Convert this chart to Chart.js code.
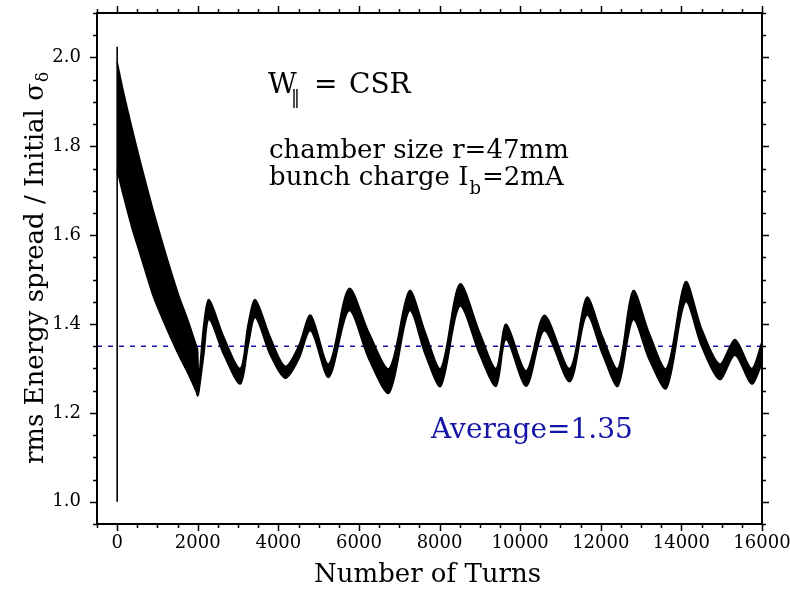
<!DOCTYPE html>
<html><head><meta charset="utf-8">
<script src="https://cdn.jsdelivr.net/npm/chart.js@4.4.0/dist/chart.umd.min.js"></script>
<style>html,body{margin:0;padding:0;background:#fff;}canvas{display:block;}</style>
</head><body>
<canvas id="c" width="790" height="592"></canvas>
<script>
// ---- data ----
const turns    = [0, 150, 371, 577, 867, 991, 1250, 1527, 1750, 1965, 1995, 2025, 2150, 2280, 2650, 3055, 3250, 3427, 3800, 4170, 4500, 4800, 5250, 5750, 6250, 6750, 7250, 7650, 8030, 8500, 9000, 9400, 9650, 10150, 10600, 11230, 11650, 12050, 12425, 12800, 13200, 13630, 14100, 14500, 14950, 15330, 15740, 16000];
const upperEnv = [1.99, 1.925, 1.84, 1.765, 1.665, 1.625, 1.545, 1.465, 1.41, 1.352, 1.345, 1.28, 1.40, 1.455, 1.37, 1.30, 1.40, 1.455, 1.37, 1.305, 1.35, 1.42, 1.31, 1.48, 1.38, 1.30, 1.475, 1.38, 1.30, 1.49, 1.38, 1.30, 1.40, 1.295, 1.42, 1.30, 1.46, 1.37, 1.30, 1.475, 1.38, 1.30, 1.495, 1.39, 1.31, 1.365, 1.30, 1.36];
const lowerEnv = [1.746, 1.69, 1.615, 1.555, 1.47, 1.44, 1.385, 1.33, 1.29, 1.247, 1.238, 1.245, 1.33, 1.41, 1.33, 1.265, 1.35, 1.415, 1.33, 1.278, 1.32, 1.385, 1.28, 1.43, 1.32, 1.245, 1.43, 1.33, 1.26, 1.44, 1.33, 1.26, 1.365, 1.26, 1.385, 1.27, 1.42, 1.33, 1.26, 1.41, 1.32, 1.255, 1.45, 1.35, 1.275, 1.33, 1.265, 1.31];
const spikeTurns  = [0, 0];
const spikeValues = [1.0, 2.024];
const averageValue = 1.35;
const xTicks = [0, 2000, 4000, 6000, 8000, 10000, 12000, 14000, 16000];
const yTicks = [1.0, 1.2, 1.4, 1.6, 1.8, 2.0];
const xRange = [-500, 16000];
const yRange = [0.95, 2.1];

const FONT = "'DejaVu Serif', serif";
const BLUE = '#1414a8';

const decor = {
  id: 'decor',
  afterDraw(chart) {
    const {ctx, chartArea: a, scales: {x, y}} = chart;
    ctx.save();
    ctx.strokeStyle = '#000';
    ctx.lineWidth = 1.5;
    ctx.beginPath();
    for (let v = xRange[0]; v <= xRange[1] + 1; v += 500) {
      const px = Math.round(x.getPixelForValue(v)) + 0.5;
      const L = (v % 2000 === 0) ? 7 : 4;
      ctx.moveTo(px, a.bottom); ctx.lineTo(px, a.bottom + L);
      ctx.moveTo(px, a.top); ctx.lineTo(px, a.top - L);
    }
    for (let i = 0; i <= 23; i++) {
      const v = yRange[0] + i * 0.05;
      const py = Math.round(y.getPixelForValue(v)) + 0.5;
      const major = Math.abs(v * 5 - Math.round(v * 5)) < 1e-6;
      const L = major ? 7 : 4;
      ctx.moveTo(a.left, py); ctx.lineTo(a.left - L, py);
      ctx.moveTo(a.right, py); ctx.lineTo(a.right + L, py);
    }
    ctx.stroke();
    ctx.lineWidth = 2;
    ctx.strokeRect(a.left, a.top, a.right - a.left, a.bottom - a.top);

    // texts
    ctx.fillStyle = '#000';
    ctx.textBaseline = 'alphabetic';
    ctx.textAlign = 'left';
    ctx.font = '28px ' + FONT;
    ctx.fillText('W', 268, 93);
    ctx.font = '18px ' + FONT;
    ctx.fillText('\u2016', 291, 103);
    ctx.font = '28px ' + FONT;
    ctx.fillText('=', 314, 93);
    ctx.fillText('CSR', 349, 93);
    ctx.font = '26px ' + FONT;
    ctx.fillText('chamber size r=47mm', 269, 158);
    const t1 = 'bunch charge I';
    ctx.fillText(t1, 269, 185);
    let xx = 269 + ctx.measureText(t1).width;
    ctx.font = '18px ' + FONT;
    ctx.fillText('b', xx + 1, 194);
    xx += ctx.measureText('b').width + 2;
    ctx.font = '26px ' + FONT;
    ctx.fillText('=2mA', xx, 185);
    ctx.fillStyle = BLUE;
    ctx.font = '28px ' + FONT;
    ctx.fillText('Average=' + averageValue.toFixed(2), 431, 438);
    ctx.fillStyle = '#000';
    ctx.font = '26px ' + FONT;
    ctx.textAlign = 'center';
    ctx.fillText('Number of Turns', (a.left + a.right) / 2 - 2, 582);
    ctx.save();
    ctx.translate(43, (a.top + a.bottom) / 2);
    ctx.rotate(-Math.PI / 2);
    ctx.textAlign = 'left';
    const main = 'rms Energy spread / Initial \u03C3';
    ctx.font = '26px ' + FONT;
    const w1 = ctx.measureText(main).width;
    ctx.font = '17px ' + FONT;
    const w2 = ctx.measureText('\u03B4').width;
    const start = -(w1 + w2) / 2;
    ctx.font = '26px ' + FONT;
    ctx.fillText(main, start, 0);
    ctx.font = '17px ' + FONT;
    ctx.fillText('\u03B4', start + w1 + 1, 5);
    ctx.restore();
    ctx.restore();
  }
};

const pts = (xs, ys) => xs.map((v, i) => ({x: v, y: ys[i]}));

new Chart(document.getElementById('c'), {
  type: 'line',
  data: {
    datasets: [
      {data: pts(turns, upperEnv), borderColor: '#000', backgroundColor: '#000', borderWidth: 1.5, pointRadius: 0, fill: '+1', tension: 0.3},
      {data: pts(turns, lowerEnv), borderColor: '#000', backgroundColor: '#000', borderWidth: 1.5, pointRadius: 0, fill: false, tension: 0.3},
      {data: pts(spikeTurns, spikeValues), borderColor: '#000', borderWidth: 1.6, pointRadius: 0, fill: false},
      {data: pts(xRange, [averageValue, averageValue]), borderColor: BLUE, borderWidth: 1.5, borderDash: [5, 6], pointRadius: 0, fill: false}
    ]
  },
  options: {
    responsive: false,
    animation: false,
    devicePixelRatio: 1,
    layout: {padding: {left: 0, right: 28, top: 13, bottom: 0}},
    plugins: {legend: {display: false}, tooltip: {enabled: false}},
    scales: {
      x: {
        type: 'linear', min: xRange[0], max: xRange[1],
        grid: {display: false, drawTicks: false},
        border: {display: false},
        afterFit: s => { s.height = 68; s.paddingLeft = 0; s.paddingRight = 0; },
        afterBuildTicks: s => { s.ticks = xTicks.map(v => ({value: v})); },
        ticks: {color: '#000', font: {family: FONT, size: 18}, padding: 9, maxRotation: 0, autoSkip: false, callback: v => String(v)}
      },
      y: {
        type: 'linear', min: yRange[0], max: yRange[1],
        grid: {display: false, drawTicks: false},
        border: {display: false},
        afterFit: s => { s.width = 97; s.paddingTop = 0; s.paddingBottom = 0; },
        afterBuildTicks: s => { s.ticks = yTicks.map(v => ({value: v})); },
        ticks: {color: '#000', font: {family: FONT, size: 18}, padding: 16, autoSkip: false, callback: v => Number(v).toFixed(1)}
      }
    }
  },
  plugins: [decor]
});
</script>
</body></html>
